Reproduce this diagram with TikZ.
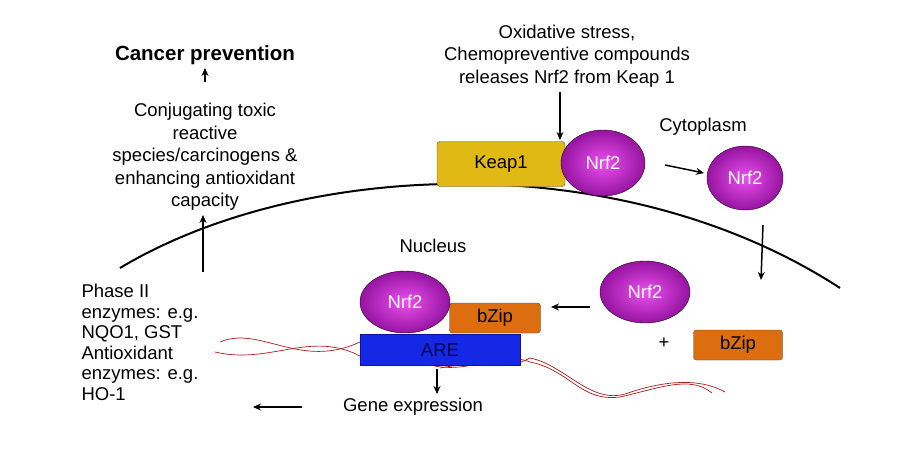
\documentclass[tikz,border=0pt]{standalone}
\usepackage{fontspec}
\setmainfont{Liberation Sans}
\usetikzlibrary{shapes.geometric,arrows.meta}
\definecolor{nrfin}{RGB}{235,80,240}
\definecolor{nrfout}{RGB}{150,20,160}
\definecolor{bzc}{RGB}{220,110,15}
\definecolor{keapc}{RGB}{225,185,20}
\definecolor{aredraw}{RGB}{10,20,160}
\definecolor{arefill}{RGB}{20,40,230}
\definecolor{aretext}{RGB}{10,10,80}
\definecolor{dnac}{RGB}{170,30,30}
\begin{document}
\begin{tikzpicture}[x=1pt,y=-1pt,
  txt/.style={font=\fontsize{18.5}{22.5}\selectfont, align=center},
  ltxt/.style={font=\fontsize{18.5}{20.5}\selectfont, align=left},
  nrf/.style={ellipse, draw=black!70!violet, shading=radial, inner color=nrfin, outer color=nrfout, text=white, font=\fontsize{18.5}{20}\selectfont},
  bzip/.style={draw=black!70, fill=bzc, rounded corners=3pt, font=\fontsize{18.5}{20}\selectfont},
  arr/.style={-{Stealth[length=8pt,width=7pt]}, line width=1.5pt},
  dna/.style={draw=dnac, line width=0.7pt}]
\useasboundingbox (0,0) rectangle (900,450);
\fill[white] (0,0) rectangle (900,450);
% membrane
\draw[line width=2pt] (120,268) .. controls (300,160) and (620,145) .. (840,288);
% DNA
\draw[dna] (220,342) .. controls (260,325) and (300,370) .. (360,342);
\draw[dna] (215,352) .. controls (270,365) and (310,330) .. (360,356);
\draw[dna] (430,365) .. controls (470,375) and (500,350) .. (530,362) .. controls (570,370) and (580,402) .. (620,397) .. controls (660,388) and (690,375) .. (712,393);
\draw[dna] (440,368) .. controls (480,360) and (505,372) .. (530,358) .. controls (565,365) and (590,404) .. (625,394) .. controls (665,380) and (700,378) .. (725,392);
% left texts
\node[font=\fontsize{20.5}{24}\selectfont\bfseries] (cp) at (205,55) {Cancer prevention};
\node[txt] (conj) at (205,157) {Conjugating toxic\\reactive\\species/carcinogens \&\\enhancing antioxidant\\capacity};
\node[ltxt, anchor=north west] (ph) at (78,281) {Phase II\\enzymes: e.g.\\NQO1, GST\\Antioxidant\\enzymes: e.g.\\HO-1};
\coordinate (ua) at (205,82); \coordinate (ub) at (205,68);
\draw[arr] (ua) -- (ub);
\coordinate (la) at (203,272); \coordinate (lb) at (203,215);
\draw[arr] (la) -- (lb);
% top
\node[txt] (ox) at (567,56) {Oxidative stress,\\Chemopreventive compounds\\releases Nrf2 from Keap 1};
\node[font=\fontsize{18.5}{20}\selectfont] (cyto) at (703,127) {Cytoplasm};
\node[font=\fontsize{18.5}{20}\selectfont] (nuc) at (433,246) {Nucleus};
\node[draw=black!70, fill=keapc, rounded corners=3pt, minimum width=128pt, minimum height=45pt, font=\fontsize{18.5}{20}\selectfont] (keap) at (501,164) {Keap1};
\node[nrf, minimum width=84pt, minimum height=66pt] (n1) at (603,163) {Nrf2};
\node[nrf, minimum width=76pt, minimum height=64pt] (n2) at (745,178) {Nrf2};
\node[nrf, minimum width=90pt, minimum height=62pt] (n3) at (645,292) {Nrf2};
\node[bzip, minimum width=89pt, minimum height=30pt] (bz2) at (738,345) {bZip};
\node[font=\fontsize{18.5}{20}\selectfont] (plus) at (664,343) {+};
\node[draw=aredraw, fill=arefill, minimum width=160pt, minimum height=31pt, font=\fontsize{18.5}{20}\selectfont, text=aretext] (are) at (440,350) {ARE};
\node[bzip, minimum width=91pt, minimum height=30pt] (bz1) at (495,318) {bZip};
\node[nrf, minimum width=90pt, minimum height=62pt] (n4) at (405,302) {Nrf2};
\node[font=\fontsize{18.5}{20}\selectfont] (ge) at (413,407) {Gene expression};
% arrows
\coordinate (a1) at (560,92); \coordinate (a2) at (560,140);
\draw[arr] (a1) -- (a2);
\coordinate (b1) at (665,165); \coordinate (b2) at (704,173);
\draw[arr] (b1) -- (b2);
\coordinate (c1) at (763,225); \coordinate (c2) at (761,280);
\draw[arr] (c1) -- (c2);
\coordinate (d1) at (590,307); \coordinate (d2) at (551,307);
\draw[arr] (d1) -- (d2);
\coordinate (e1) at (437,369); \coordinate (e2) at (437,394);
\draw[arr] (e1) -- (e2);
\coordinate (f1) at (302,407); \coordinate (f2) at (253,407);
\draw[arr] (f1) -- (f2);
\end{tikzpicture}
\end{document}
